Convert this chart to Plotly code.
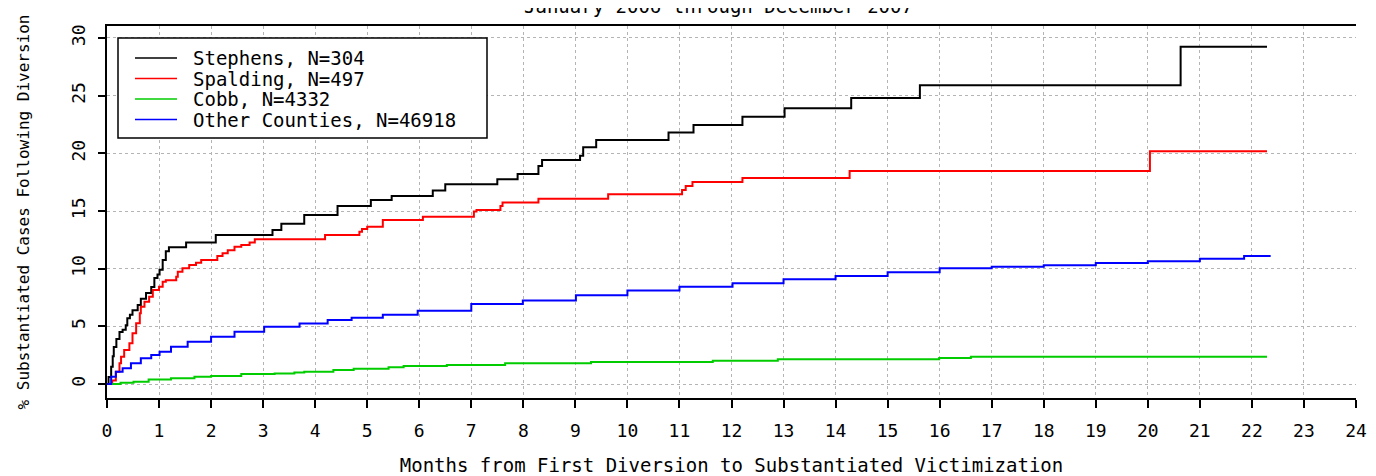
import plotly.graph_objects as go

# ---------------- data ----------------
series_names = ["Stephens, N=304", "Spalding, N=497", "Cobb, N=4332", "Other Counties, N=46918"]
series_colors = ["#000000", "#ff0000", "#00cc00", "#0000ff"]

stephens_m = [0, 0.03, 0.08, 0.11, 0.13, 0.18, 0.24, 0.30, 0.36, 0.39, 0.44, 0.49, 0.59, 0.65, 0.75,
              0.85, 0.91, 0.97, 1.01, 1.07, 1.13, 1.19, 1.52, 2.09, 3.18, 3.35, 3.79, 4.43, 5.07, 5.47,
              6.26, 6.50, 7.50, 7.89, 8.29, 8.36, 9.09, 9.15, 9.40, 10.79, 11.27, 12.21, 13.02, 14.30,
              15.62, 20.63, 22.29]
stephens_v = [0, 0.6, 1.5, 2.4, 3.2, 3.9, 4.5, 4.7, 5.1, 5.7, 6.0, 6.4, 6.85, 7.4, 7.9,
              8.4, 9.2, 9.5, 9.9, 10.75, 11.5, 11.85, 12.26, 12.92, 13.35, 13.9, 14.66, 15.44, 15.96, 16.3,
              16.77, 17.32, 17.75, 18.21, 18.9, 19.43, 19.8, 20.53, 21.16, 21.8, 22.46, 23.18, 23.9, 24.8,
              25.9, 29.25, 29.25]

spalding_m = [0, 0.10, 0.17, 0.24, 0.27, 0.33, 0.43, 0.49, 0.56, 0.63, 0.65, 0.72, 0.81, 0.88, 1.00,
              1.07, 1.13, 1.33, 1.36, 1.45, 1.58, 1.71, 1.81, 2.12, 2.22, 2.32, 2.45, 2.58, 2.74, 2.84,
              4.19, 4.85, 4.90, 5.00, 5.30, 6.07, 7.05, 7.10, 7.56, 7.60, 8.29, 9.63, 11.05, 11.12,
              11.25, 12.21, 14.27, 20.04, 22.29]
spalding_v = [0, 0.3, 1.07, 1.79, 2.37, 2.95, 3.53, 4.4, 5.27, 6.13, 6.7, 7.14, 7.57, 8.15, 8.44,
              8.87, 9.0, 9.3, 9.74, 10.03, 10.32, 10.52, 10.75, 11.1, 11.34, 11.6, 11.9, 12.06, 12.26, 12.55,
              12.92, 13.2, 13.44, 13.64, 14.22, 14.51, 14.95, 15.09, 15.44, 15.73, 16.07, 16.45, 16.83, 17.17,
              17.52, 17.87, 18.47, 20.18, 20.18]

cobb_m = [0, 0.26, 0.51, 0.80, 1.23, 1.68, 2.00, 2.58, 3.22, 3.60, 3.79, 4.35, 4.74, 5.41, 5.70,
          6.53, 7.65, 9.30, 11.64, 12.89, 15.99, 16.60, 22.29]
cobb_v = [0, 0.1, 0.2, 0.4, 0.5, 0.63, 0.7, 0.87, 0.92, 1.0, 1.07, 1.21, 1.33, 1.45, 1.56,
          1.65, 1.79, 1.91, 2.02, 2.14, 2.25, 2.37, 2.37]

other_m = [0, 0.08, 0.17, 0.30, 0.46, 0.65, 0.85, 1.01, 1.23, 1.55, 2.00, 2.45, 3.02, 3.70, 4.24,
           4.70, 5.30, 5.97, 7.00, 7.99, 9.01, 10.00, 11.00, 12.02, 13.00, 14.00, 15.00, 16.00, 17.00,
           18.00, 19.00, 20.00, 21.00, 21.85, 22.36]
other_v = [0, 0.63, 1.07, 1.36, 1.79, 2.23, 2.52, 2.8, 3.24, 3.67, 4.1, 4.54, 4.97, 5.25, 5.55,
           5.75, 6.0, 6.36, 6.94, 7.23, 7.69, 8.1, 8.44, 8.73, 9.08, 9.37, 9.68, 10.03, 10.17,
           10.29, 10.49, 10.64, 10.87, 11.1, 11.1]

x_ticks = list(range(0, 25))
y_ticks = [0, 5, 10, 15, 20, 25, 30]

title_text = "January 2006 through December 2007"
x_title = "Months from First Diversion to Substantiated Victimization"
y_title = "% Substantiated Cases Following Diversion"

# ---------------- figure ----------------
FONT = "DejaVu Sans Mono"
OFF = 8                      # the page body margin shifts the figure by 8 px
W, H = 1376 - OFF, 476 - OFF
L, R, T, B = 107 - OFF, 20, 26 - OFF, 78
pw, ph = W - L - R, H - T - B

def px_x(p):                 # screen x (px) -> paper x
    return (p - OFF - L) / pw

def px_y(p):                 # screen y (px) -> paper y
    return (H - B - (p - OFF)) / ph

fig = go.Figure()
all_series = [(stephens_m, stephens_v), (spalding_m, spalding_v), (cobb_m, cobb_v), (other_m, other_v)]
for (mx, vy), name, col in zip(all_series, series_names, series_colors):
    fig.add_trace(go.Scatter(x=mx, y=vy, mode="lines", name=name, showlegend=False,
                             line=dict(color=col, width=2, shape="hv")))

# manual legend (box, sample lines, labels)
shapes = [dict(type="rect", xref="paper", yref="paper", x0=px_x(118), x1=px_x(487),
               y0=px_y(138), y1=px_y(38), line=dict(color="#000000", width=1.5),
               fillcolor="white", layer="above")]
annotations = []
rows = [58, 78.5, 99, 119.5]
for yy, name, col in zip(rows, series_names, series_colors):
    shapes.append(dict(type="line", xref="paper", yref="paper", x0=px_x(135), x1=px_x(177),
                       y0=px_y(yy), y1=px_y(yy), line=dict(color=col, width=1.5), layer="above"))
    annotations.append(dict(text=name, xref="paper", yref="paper", x=px_x(191), y=px_y(yy),
                            xanchor="left", yanchor="middle", showarrow=False,
                            font=dict(family=FONT, size=19, color="#000000")))

# page title: only its lower edge shows at the top of the page, as in the reference
annotations.append(dict(text=title_text, xref="paper", yref="paper", x=px_x(718), y=px_y(19),
                        xanchor="center", yanchor="bottom", showarrow=False,
                        font=dict(family=FONT, size=19, color="#000000")))

fig.update_layout(
    width=W, height=H,
    margin=dict(l=L, r=R, t=T, b=B, pad=0),
    paper_bgcolor="white", plot_bgcolor="white",
    font=dict(family=FONT, color="#000000"),
    shapes=shapes, annotations=annotations,
    xaxis=dict(range=[0, 24], tickmode="array", tickvals=x_ticks, ticktext=[str(t) for t in x_ticks],
               automargin=False,
               showline=True, linecolor="#000000", linewidth=2, mirror=True,
               ticks="outside", ticklen=8, tickwidth=2, tickcolor="#000000",
               showgrid=True, gridcolor="#b4b4b4", gridwidth=1, griddash="dot",
               zeroline=False, tickfont=dict(family=FONT, size=18), ticklabelstandoff=7,
               title=dict(text=x_title, font=dict(family=FONT, size=19), standoff=29)),
    yaxis=dict(range=[-1.214, 31.04], tickmode="array", tickvals=y_ticks, ticktext=[str(t) for t in y_ticks],
               automargin=False,
               showline=True, linecolor="#000000", linewidth=2, mirror=False,
               ticks="outside", ticklen=7, tickwidth=2, tickcolor="#000000",
               showgrid=True, gridcolor="#b4b4b4", gridwidth=1, griddash="dot",
               zeroline=False, tickangle=-90, tickfont=dict(family=FONT, size=18), ticklabelstandoff=6,
               title=dict(text=y_title, font=dict(family=FONT, size=16), standoff=34)),
)

fig.write_html("out.html")
